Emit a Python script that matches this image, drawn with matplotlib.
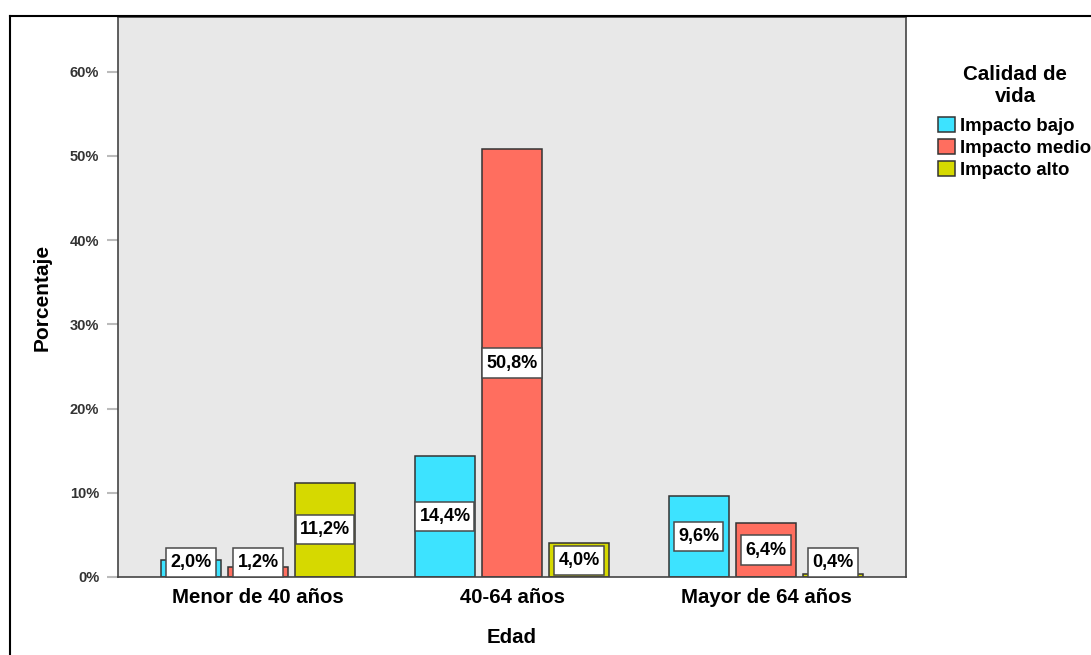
import numpy as np
import matplotlib
matplotlib.use("Agg")
import matplotlib.pyplot as plt
from matplotlib.patches import Patch
from matplotlib.lines import Line2D
from matplotlib.path import Path

plt.rcParams["font.family"] = ["Liberation Sans", "DejaVu Sans"]

edades = ["Menor de 40 años", "40-64 años", "Mayor de 64 años"]
niveles = ["Impacto bajo", "Impacto medio", "Impacto alto"]
bajo = [2.0, 14.4, 9.6]
medio = [1.2, 50.8, 6.4]
alto = [11.2, 4.0, 0.4]
colores = ["#3DE3FF", "#FF6E5F", "#D6D900"]
yticks = [0, 10, 20, 30, 40, 50, 60]


def caja(x0, y0, width, height, mutation_size):
    # rectangle with more padding above/below than at the sides
    px = 0.22 * mutation_size
    py = 0.34 * mutation_size
    verts = [(x0 - px, y0 - py), (x0 + width + px, y0 - py),
             (x0 + width + px, y0 + height + py), (x0 - px, y0 + height + py),
             (x0 - px, y0 - py)]
    return Path(verts, closed=True)


fig = plt.figure(figsize=(10.91, 6.55), dpi=100)
ax = fig.add_axes([0.1082, 0.1191, 0.7222, 0.855])
ax.set_facecolor("#E8E8E8")

x = np.arange(len(edades))
ancho = 0.236
paso = 0.264
for i, (serie, color) in enumerate(zip([bajo, medio, alto], colores)):
    pos = x + (i - 1) * paso
    ax.bar(pos, serie, width=ancho, color=color, edgecolor="#333333", linewidth=1.1, zorder=2)
    for px, v in zip(pos, serie):
        ax.text(px, max(v / 2, 1.75), f"{v:.1f}%".replace(".", ","),
                ha="center", va="center", fontsize=13, fontweight="bold", zorder=3,
                bbox=dict(boxstyle=caja, fc="white", ec="#4A4A4A", lw=1.1))

ax.set_xlim(-0.551, 2.551)
ax.set_ylim(0, 66.5)
ax.set_xticks(x)
ax.set_xticklabels(edades, fontsize=14.7, fontweight="bold")
ax.tick_params(axis="x", length=0, pad=8)
ax.set_yticks(yticks)
ax.set_yticklabels([f"{t}%" for t in yticks], fontsize=10.5, fontweight="bold", color="#333333")
ax.tick_params(axis="y", length=8, width=1.5, color="#BBBBBB", pad=5.5)
for s in ax.spines.values():
    s.set_color("#444444")
    s.set_linewidth(1.2)

ax.set_xlabel("Edad", fontsize=14.7, fontweight="bold", labelpad=15)
ax.set_ylabel("Porcentaje", fontsize=15, fontweight="bold", labelpad=13)

# legend outside the plot, title drawn separately
fig.text(1015 / 1091, 1 - 85 / 655, "Calidad de\nvida", ha="center", va="center",
         fontsize=14.8, fontweight="bold", linespacing=1.2)
handles = [Patch(facecolor=c, edgecolor="#333333", linewidth=1.1) for c in colores]
fig.legend(handles, niveles, loc="upper left", bbox_to_anchor=(938 / 1091, 1 - 117 / 655),
           frameon=False, prop={"weight": "bold", "size": 13.4},
           handlelength=0.91, handleheight=0.86, handletextpad=0.27,
           labelspacing=0.21, borderpad=0, borderaxespad=0)

# outer frame
fig.add_artist(Line2D([9.5 / 1091, 9.5 / 1091], [0, 1 - 16 / 655], color="black", lw=1.5))
fig.add_artist(Line2D([9.5 / 1091, 1], [1 - 16 / 655, 1 - 16 / 655], color="black", lw=1.5))

fig.savefig("out.png", dpi=100)
